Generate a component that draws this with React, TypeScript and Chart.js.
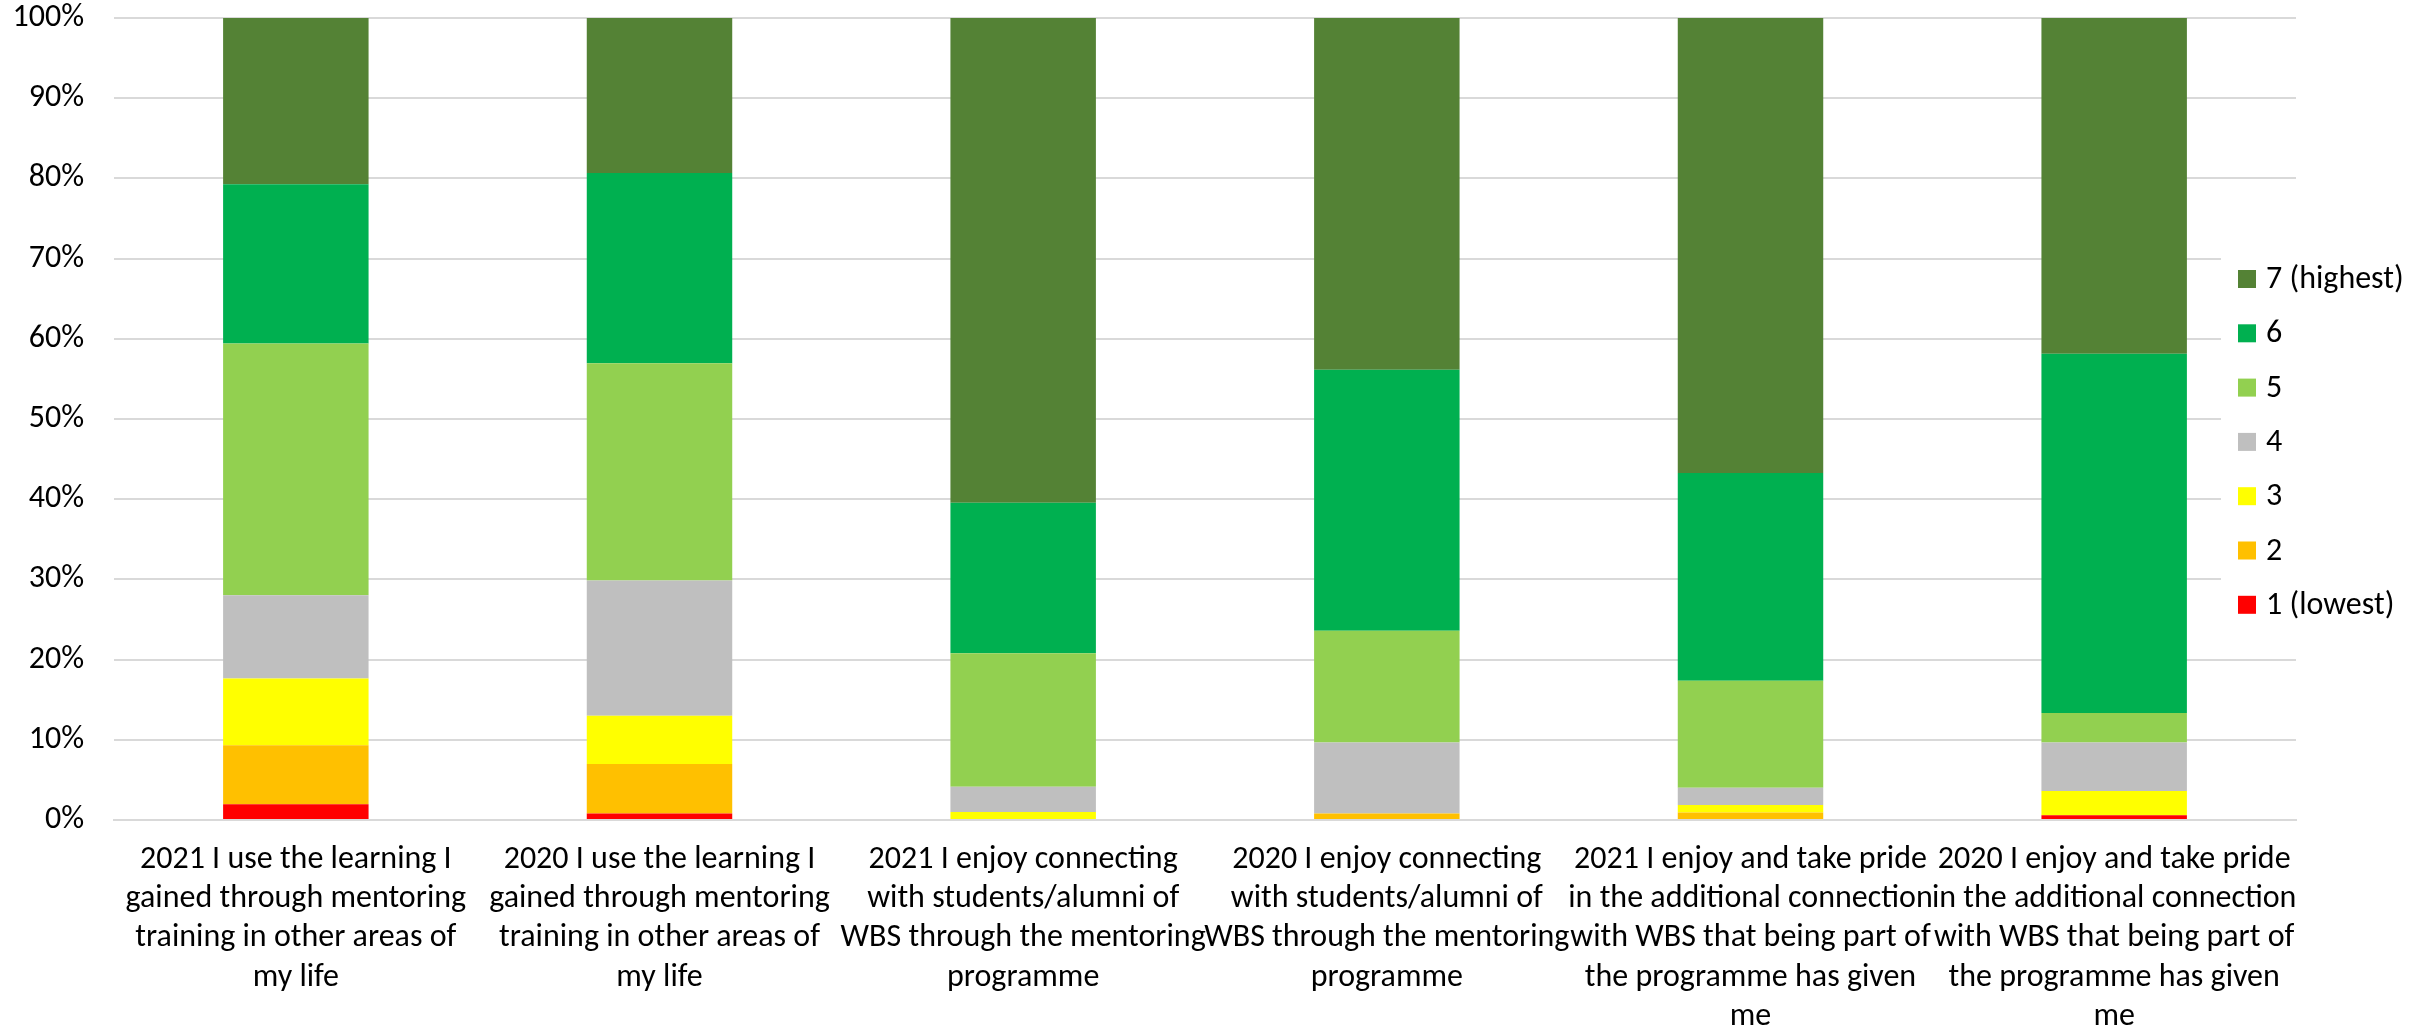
import React, { useEffect, useRef } from "react";
import { Chart, registerables } from "chart.js";

Chart.register(...registerables);

const categories: string[][] = [
  ["2021 I use the learning I", "gained through mentoring", "training in other areas of", "my life"],
  ["2020 I use the learning I", "gained through mentoring", "training in other areas of", "my life"],
  ["2021 I enjoy connecting", "with students/alumni of", "WBS through the mentoring", "programme"],
  ["2020 I enjoy connecting", "with students/alumni of", "WBS through the mentoring", "programme"],
  ["2021 I enjoy and take pride", "in the additional connection", "with WBS that being part of", "the programme has given", "me"],
  ["2020 I enjoy and take pride", "in the additional connection", "with WBS that being part of", "the programme has given", "me"],
];

const seriesLabels = ["1 (lowest)", "2", "3", "4", "5", "6", "7 (highest)"];
const seriesColors = ["#FF0000", "#FFC000", "#FFFF00", "#BFBFBF", "#92D050", "#00B050", "#548235"];

const rating1 = [1.95, 0.8, 0, 0, 0, 0.6];
const rating2 = [7.37, 6.18, 0, 0.8, 0.94, 0];
const rating3 = [8.32, 6.03, 1.01, 0, 0.94, 3.02];
const rating4 = [10.39, 16.84, 3.15, 8.86, 2.14, 6.04];
const rating5 = [31.39, 27.09, 16.63, 13.95, 13.35, 3.69];
const rating6 = [19.86, 23.74, 18.78, 32.53, 25.89, 44.8];
const rating7 = [20.72, 19.32, 60.43, 43.86, 56.74, 41.85];

const seriesValues = [rating1, rating2, rating3, rating4, rating5, rating6, rating7];

const yTicks = [0, 10, 20, 30, 40, 50, 60, 70, 80, 90, 100];

const FONT = "Carlito, Lato, 'Open Sans', sans-serif";
const FONT_SIZE = 32;

const overlayLegend = {
  id: "overlayLegend",
  afterDraw(chart: any) {
    const ctx = chart.ctx;
    ctx.save();
    ctx.fillStyle = "#FFFFFF";
    ctx.fillRect(2221, 245, 2422 - 2221, 395);
    const ds = [...chart.data.datasets].reverse();
    const startY = 279;
    const step = 54.3;
    ctx.font = `${FONT_SIZE}px ${FONT}`;
    ctx.textBaseline = "middle";
    ctx.textAlign = "left";
    ds.forEach((d: any, i: number) => {
      const cy = startY + i * step;
      ctx.fillStyle = d.backgroundColor;
      ctx.fillRect(2238, cy - 9, 18, 18);
      ctx.fillStyle = "#000000";
      ctx.fillText(d.label, 2266, cy + 1);
    });
    ctx.restore();
  },
};

export default function App() {
  const ref = useRef<HTMLCanvasElement | null>(null);

  useEffect(() => {
    if (!ref.current) return;
    const chart = new Chart(ref.current, {
      type: "bar",
      data: {
        labels: categories,
        datasets: seriesLabels.map((label, i) => ({
          label,
          data: seriesValues[i],
          backgroundColor: seriesColors[i],
          borderWidth: 0,
          barPercentage: 0.4,
          categoryPercentage: 1,
        })),
      },
      options: {
        animation: false,
        responsive: false,
        maintainAspectRatio: false,
        layout: { padding: { top: 18, right: 126, bottom: 0, left: 0 } },
        plugins: {
          legend: { display: false },
          tooltip: { enabled: false },
        },
        scales: {
          x: {
            stacked: true,
            afterFit: (scale: any) => {
              scale.height = 210;
              scale.paddingLeft = 0;
              scale.paddingRight = 0;
            },
            grid: { display: false, drawTicks: false },
            border: { display: true, color: "#D9D9D9", width: 2 },
            ticks: {
              color: "#000000",
              font: { family: FONT, size: FONT_SIZE, lineHeight: 1.23 },
              padding: 20,
              maxRotation: 0,
              minRotation: 0,
              autoSkip: false,
            },
          },
          y: {
            stacked: true,
            min: 0,
            max: 100,
            afterBuildTicks: (scale: any) => {
              scale.ticks = yTicks.map((v) => ({ value: v }));
            },
            afterFit: (scale: any) => {
              scale.width = 114;
              scale.paddingTop = 0;
              scale.paddingBottom = 0;
            },
            grid: { color: "#D9D9D9", lineWidth: 2, drawTicks: false },
            border: { display: false },
            ticks: {
              color: "#000000",
              font: { family: FONT, size: FONT_SIZE },
              padding: 30,
              callback: (v: any) => `${v}%`,
            },
          },
        },
      },
      plugins: [overlayLegend],
    });
    return () => chart.destroy();
  }, []);

  return (
    <div style={{ position: "absolute", left: 0, top: 0, width: 2422, height: 1030, background: "#fff" }}>
      <canvas ref={ref} width={2422} height={1030} style={{ width: 2422, height: 1030 }} />
    </div>
  );
}
